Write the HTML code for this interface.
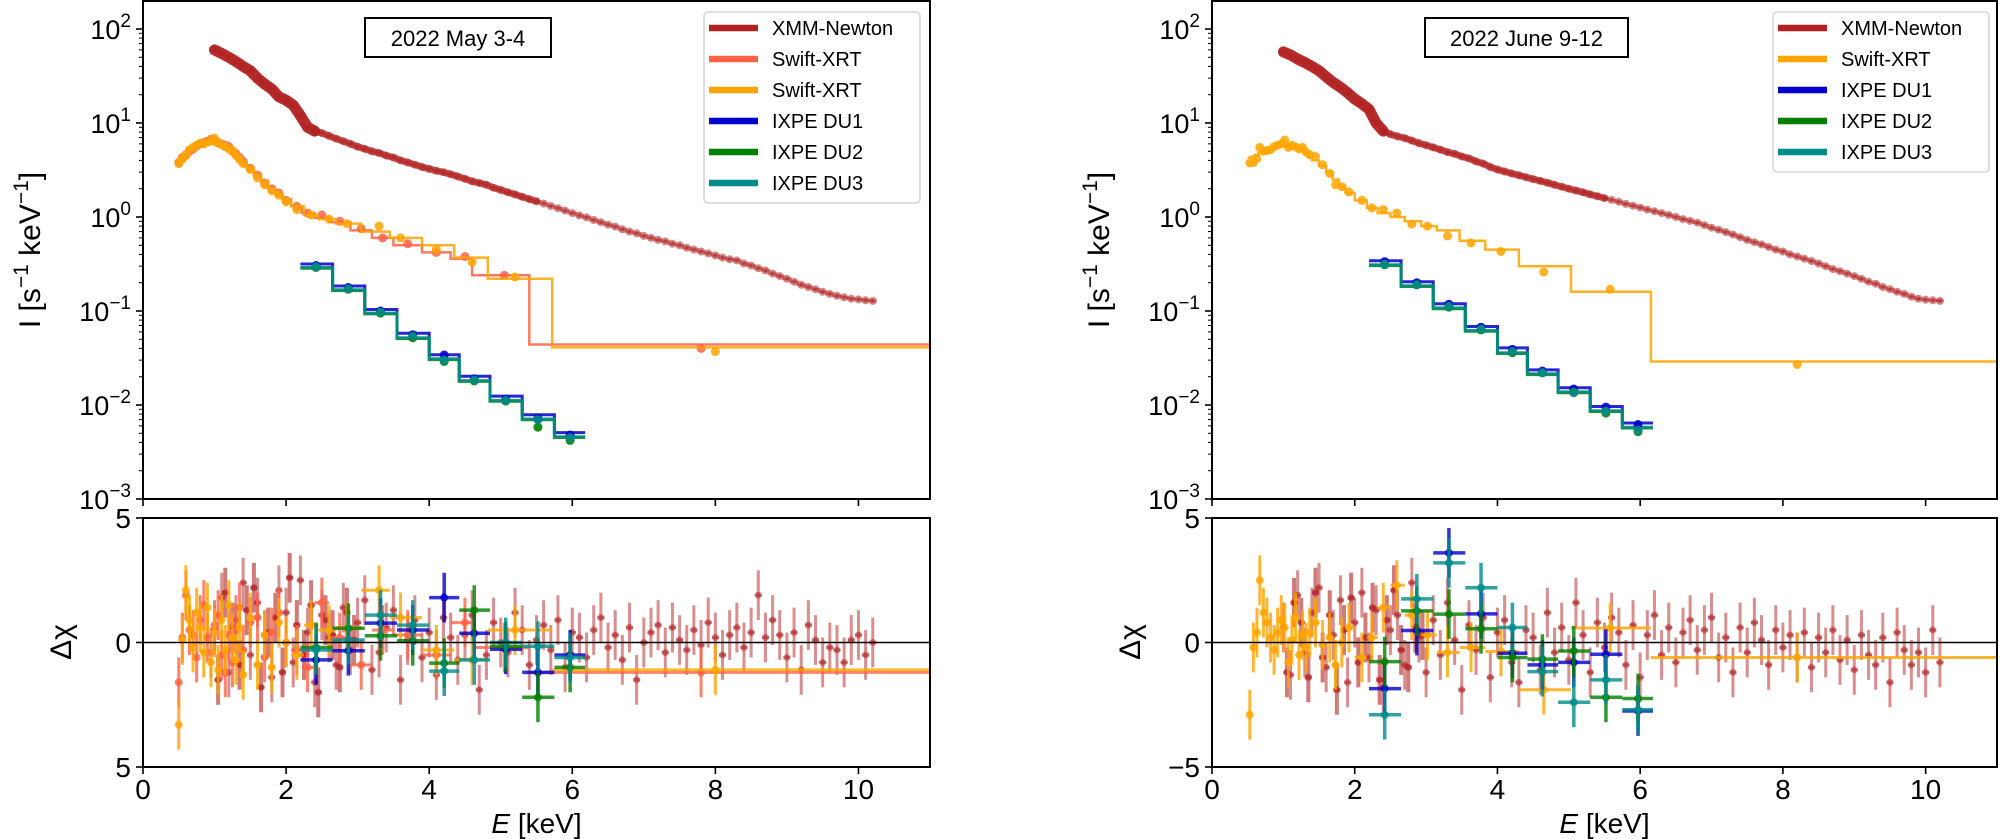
<!DOCTYPE html>
<html><head><meta charset="utf-8">
<style>
html,body{margin:0;padding:0;background:#fff;}
svg{display:block;font-family:"Liberation Sans","DejaVu Sans",sans-serif;}
</style></head>
<body>
<svg id="fig" width="2000" height="839" viewBox="0 0 2000 839" xmlns="http://www.w3.org/2000/svg">
<defs>
<clipPath id="clipTopL"><rect x="143" y="1" width="787" height="498"/></clipPath>
<clipPath id="clipResL"><rect x="143" y="518" width="787" height="249"/></clipPath>
<clipPath id="clipTopR"><rect x="1212" y="1" width="785" height="498"/></clipPath>
<clipPath id="clipResR"><rect x="1212" y="518" width="785" height="249"/></clipPath>
</defs>
</svg>
<script>
// ---------- shared energy grid for XMM ----------
const xmmE = [1.0,1.1,1.2,1.3,1.4,1.5,1.6,1.7,1.8,1.9,2.0,2.1,2.2,2.3,2.4,2.5,2.6,2.7,2.8,2.9,3.0,3.1,3.2,3.3,3.4,3.5,3.6,3.7,3.8,3.9,4.0,4.1,4.2,4.3,4.4,4.5,4.6,4.7,4.8,4.9,5.0,5.1,5.2,5.3,5.4,5.5,5.6,5.7,5.8,5.9,6.0,6.1,6.2,6.3,6.4,6.5,6.6,6.7,6.8,6.9,7.0,7.1,7.2,7.3,7.4,7.5,7.6,7.7,7.8,7.9,8.0,8.1,8.2,8.3,8.4,8.5,8.6,8.7,8.8,8.9,9.0,9.1,9.2,9.3,9.4,9.5,9.6,9.7,9.8,9.9,10.0,10.1,10.2];
const xmmLoE = [1.05,1.15,1.25,1.35,1.45,1.55,1.65,1.75,1.85,1.95,2.05,2.15,2.25,2.35,2.45,2.55,2.65,2.75,2.85,2.95];
const ixpeE = [2.42,2.87,3.32,3.77,4.21,4.63,5.07,5.52,5.97];
const ixpeEdges = [2.2,2.65,3.1,3.55,4.0,4.42,4.85,5.3,5.75,6.18];
const xTicks = [0,2,4,6,8,10];
const yTickExp = [-3,-2,-1,0,1,2];

// ---------- LEFT panel (2022 May 3-4) ----------
const L_xmmY = [60,55,50,45,40,36,30,26,23,19,17.5,15.5,12,9,8.2,7.8,7.3,6.8,6.4,6.0,5.6,5.3,5.0,4.8,4.5,4.3,4.0,3.8,3.6,3.4,3.25,3.1,3.0,2.85,2.7,2.55,2.4,2.3,2.2,2.05,1.94,1.83,1.74,1.64,1.55,1.47,1.39,1.31,1.24,1.17,1.10,1.04,0.99,0.93,0.88,0.83,0.79,0.74,0.70,0.67,0.63,0.60,0.57,0.55,0.52,0.50,0.47,0.45,0.43,0.41,0.39,0.37,0.355,0.345,0.32,0.305,0.285,0.27,0.25,0.235,0.22,0.205,0.19,0.18,0.17,0.16,0.152,0.145,0.14,0.135,0.133,0.13,0.128];
const L_xmmRes = [0.5,1.8,-1.2,0.9,2.4,-0.5,1.6,0.3,-1.4,2.1,1.2,-0.8,2.5,0.4,-1.6,1.1,0.2,-0.9,1.4,-0.3,0.8,1.7,-1.1,-0.4,0.6,1.3,-1.5,0.1,0.9,-0.6,0.4,-1.3,1.0,0.2,-0.7,0.3,1.1,-1.9,-0.5,0.8,0.0,-0.4,1.2,0.5,-0.9,0.1,0.7,-0.3,0.9,-1.0,0.4,0.2,-0.6,0.5,1.0,-0.2,0.3,-0.7,0.6,-1.5,0.0,0.4,0.7,-0.4,0.6,0.1,-0.3,0.5,-0.1,0.8,0.2,-0.5,0.3,0.6,-0.2,0.4,1.9,0.2,0.9,0.3,-0.6,0.4,-1.1,0.7,0.1,-0.8,-0.2,-0.3,-0.8,0.1,0.3,-0.5,0.0];
const L_xmmLoRes = [-1.5,2.0,0.6,-0.9,1.3,2.2,-1.8,0.4,1.0,-1.2,2.6,0.7,-0.5,1.5,-2.0,0.9,0.3,-1.0,1.2,0.1];
// Swift-XRT (tomato)
const L_sw1E = [0.5,0.55,0.6,0.65,0.7,0.75,0.8,0.85,0.9,0.95,1.0,1.05,1.1,1.15,1.2,1.25,1.3,1.35,1.4,1.5,1.6,1.7,1.8,1.9,2.0,2.15,2.3,2.5,2.75,3.05,3.35,3.7,4.1,4.5,5.05,7.8];
const L_sw1Edges = [0.47,0.52,0.57,0.62,0.67,0.72,0.77,0.82,0.87,0.92,0.97,1.02,1.07,1.12,1.17,1.22,1.27,1.32,1.37,1.45,1.55,1.65,1.75,1.85,1.95,2.07,2.22,2.4,2.6,2.9,3.2,3.5,3.9,4.3,4.6,5.4,11];
const L_sw1Y = [3.8,4.3,4.6,5.0,5.3,5.7,6.0,6.2,6.4,6.7,6.5,6.2,6.0,5.8,5.6,5.0,4.7,4.3,3.9,3.3,2.8,2.3,2.0,1.8,1.5,1.3,1.1,1.05,0.9,0.75,0.6,0.52,0.42,0.38,0.24,0.04];
const L_sw1M = [4.0,4.4,4.7,5.0,5.4,5.7,6.0,6.2,6.3,6.3,6.2,6.0,5.8,5.5,5.2,4.9,4.6,4.2,3.8,3.3,2.8,2.4,2.0,1.75,1.55,1.3,1.1,0.98,0.88,0.72,0.6,0.5,0.42,0.36,0.24,0.044];
const L_sw1Res = [-1.6,0.2,1.9,0.5,0.3,-0.6,0.9,1.5,0.2,-0.4,0.7,1.1,-0.5,-1.2,0.3,-0.8,0.5,1.4,-0.3,0.8,1.0,-0.6,0.4,1.2,0.0,-0.3,-1.0,1.6,0.2,-0.9,0.5,0.3,-0.5,0.8,-0.2,-1.2];
// Swift-XRT (orange)
const L_sw2E = [0.5,0.55,0.6,0.65,0.7,0.75,0.8,0.85,0.9,0.95,1.0,1.05,1.1,1.15,1.2,1.25,1.3,1.35,1.4,1.5,1.6,1.7,1.8,1.9,2.0,2.15,2.35,2.6,2.85,3.3,3.6,4.1,4.6,5.2,8.0];
const L_sw2Edges = [0.47,0.52,0.57,0.62,0.67,0.72,0.77,0.82,0.87,0.92,0.97,1.02,1.07,1.12,1.17,1.22,1.27,1.32,1.37,1.45,1.55,1.65,1.75,1.85,1.95,2.07,2.25,2.45,2.7,3.05,3.45,3.9,4.35,4.82,5.72,11];
const L_sw2Y = [3.7,4.1,4.5,5.2,5.5,5.8,6.1,6.0,6.3,6.4,6.9,6.1,5.9,5.6,5.3,5.1,4.5,4.1,3.7,3.2,2.6,2.2,1.9,1.7,1.45,1.2,1.05,0.95,0.85,0.8,0.6,0.45,0.33,0.23,0.037];
const L_sw2M = [4.1,4.5,4.8,5.1,5.5,5.8,6.0,6.2,6.3,6.3,6.2,6.0,5.8,5.5,5.2,4.9,4.6,4.2,3.8,3.3,2.8,2.4,2.0,1.75,1.55,1.3,1.05,0.95,0.85,0.7,0.6,0.5,0.37,0.22,0.041];
const L_sw2Res = [-3.3,0.1,2.1,0.9,-0.2,1.2,0.6,-0.4,1.4,-0.8,0.4,-1.1,0.9,-0.3,1.5,0.2,-0.7,0.6,-1.3,1.0,-0.9,0.3,-1.0,0.8,0.0,-0.5,0.7,0.5,0.6,2.1,1.0,-0.3,-0.7,0.5,-1.1];
// IXPE
const L_du1Y = [0.305,0.178,0.1,0.056,0.034,0.019,0.0115,0.0072,0.0048];
const L_du2Y = [0.29,0.17,0.095,0.052,0.029,0.018,0.011,0.0058,0.0042];
const L_du3Y = [0.295,0.172,0.097,0.054,0.030,0.0185,0.0112,0.007,0.0045];
const L_du1M = [0.305,0.178,0.1,0.056,0.033,0.0195,0.012,0.0076,0.0049];
const L_du23M = [0.29,0.168,0.095,0.052,0.031,0.0182,0.0112,0.0071,0.0046];
const L_du1Res = [-0.7,-0.33,0.78,0.5,1.8,0.37,-0.27,-1.2,-0.5];
const L_du2Res = [-0.2,0.57,0.27,0.07,-0.83,1.3,-0.16,-2.2,-1.0];
const L_du3Res = [-0.3,0.1,1.1,0.7,-1.15,-0.7,0.0,-0.15,-0.6];

// ---------- RIGHT panel (2022 June 9-12) ----------
const R_xmmY = [57,53,48,44,40,36,31,27,24,21,18,16,14,10,8.2,7.6,7.2,6.9,6.5,6.1,5.8,5.5,5.2,4.9,4.7,4.4,4.2,3.9,3.7,3.4,3.2,3.05,2.9,2.78,2.65,2.53,2.42,2.31,2.2,2.1,2.0,1.91,1.83,1.74,1.66,1.59,1.52,1.45,1.38,1.32,1.26,1.2,1.15,1.1,1.05,1.0,0.95,0.91,0.87,0.82,0.77,0.73,0.69,0.65,0.61,0.57,0.54,0.51,0.48,0.45,0.43,0.40,0.38,0.36,0.34,0.32,0.3,0.28,0.265,0.25,0.235,0.22,0.205,0.195,0.18,0.17,0.16,0.152,0.142,0.135,0.132,0.13,0.128];
const R_xmmRes = [0.6,-1.3,1.9,-0.4,1.2,2.2,-1.0,0.3,1.7,-1.6,0.8,2.0,-0.6,1.3,-1.8,0.5,1.1,-0.9,2.4,0.2,-1.2,0.9,-0.5,1.6,0.1,-1.9,0.7,-0.3,1.0,-1.4,0.4,0.9,-0.8,-1.6,0.5,0.2,-1.1,1.2,-0.4,0.6,-0.7,1.6,0.3,-1.2,0.8,-0.2,1.0,0.4,-0.9,0.7,-1.4,0.3,1.1,-0.5,0.6,-0.8,0.4,0.9,-0.3,0.5,1.0,-0.6,0.2,-1.2,0.6,-0.4,0.8,0.1,-0.9,0.5,-0.2,0.3,-0.6,0.4,-1.0,0.2,-0.4,0.5,-0.7,0.1,-1.1,0.3,-0.5,-0.9,0.2,-1.6,0.4,-0.3,-0.9,-0.4,-1.2,0.5,-0.8];
const R_xmmLoRes = [-1.2,1.6,0.8,-1.4,2.0,-0.6,1.1,-1.9,0.5,1.8,-0.8,0.2,1.4,-1.5,0.9,2.1,-0.3,-1.0,0.6,0.3];
const R_swE = [0.53,0.58,0.63,0.67,0.72,0.77,0.82,0.87,0.92,0.97,1.02,1.07,1.12,1.17,1.22,1.27,1.32,1.37,1.45,1.55,1.65,1.73,1.82,1.92,2.1,2.24,2.4,2.59,2.8,3.02,3.3,3.63,4.05,4.65,5.58,8.2];
const R_swEdges = [0.5,0.55,0.6,0.65,0.7,0.75,0.8,0.85,0.9,0.95,1.0,1.05,1.1,1.15,1.2,1.25,1.3,1.35,1.4,1.5,1.6,1.69,1.78,1.87,2.0,2.17,2.32,2.5,2.7,2.93,3.15,3.47,3.83,4.3,5.03,6.15,11];
const R_swY = [3.75,3.8,4.2,5.5,5.0,5.1,5.2,5.6,5.8,6.0,6.6,5.5,5.8,5.6,5.3,5.5,4.9,4.6,4.4,3.6,2.9,2.2,2.1,1.85,1.5,1.25,1.2,1.1,0.84,0.8,0.63,0.53,0.43,0.26,0.17,0.027];
const R_swM = [4.3,4.4,4.6,4.8,5.0,5.2,5.4,5.6,5.7,5.8,5.8,5.7,5.6,5.4,5.2,5.0,4.7,4.4,4.0,3.5,3.0,2.5,2.1,1.8,1.5,1.25,1.1,1.0,0.9,0.8,0.72,0.56,0.45,0.3,0.16,0.029];
const R_swRes = [-2.9,-0.2,0.4,2.5,1.2,0.8,0.2,-0.3,0.4,0.9,0.6,-0.8,0.1,1.0,-0.5,0.3,-0.2,0.4,0.8,-0.1,0.2,-0.9,0.0,0.6,-0.6,0.2,1.4,2.3,1.1,0.3,-0.4,-0.2,-0.36,-1.9,0.58,-0.6];
const R_du1Y = [0.335,0.2,0.118,0.067,0.039,0.023,0.0148,0.0095,0.0062];
const R_du2Y = [0.31,0.19,0.11,0.063,0.036,0.022,0.0138,0.0082,0.0052];
const R_du3Y = [0.315,0.19,0.112,0.064,0.037,0.022,0.0135,0.0086,0.0054];
const R_du1M = [0.33,0.197,0.115,0.066,0.039,0.0228,0.0147,0.0093,0.0062];
const R_du23M = [0.31,0.186,0.108,0.062,0.036,0.0215,0.0138,0.0087,0.0058];
const R_du1Res = [-1.85,0.48,3.6,1.15,-0.43,-0.9,-0.8,-0.47,-2.75];
const R_du2Res = [-0.77,1.27,1.14,0.55,-0.6,-0.67,-0.34,-2.2,-2.25];
const R_du3Res = [-2.9,1.75,3.2,2.2,0.6,-1.17,-2.4,-1.5,-2.7];

const C = {xmm:'#b22222', tom:'#ff6347', ora:'#ffa500', du1:'#0000cd', du2:'#008000', du3:'#008b8b'};
const NS = 'http://www.w3.org/2000/svg';
const svg = document.getElementById('fig');

function mk(tag, parent, name, attrs) {
  const el = document.createElementNS(NS, tag);
  
  
  for (const k in attrs) el.setAttribute(k, attrs[k]);
  parent.appendChild(el);
  return el;
}
function group(parent, name, attrs) { return mk('g', parent, name, attrs || {}); }

function panel(P) {
  const x0 = P.x0, x1 = P.x1, kx = (x1 - x0) / 11;
  const X = e => x0 + e * kx;
  const Y = v => 499 - (Math.log10(v) + 3) * 94;
  const R = r => 642.5 - r * 24.9;
  const root = group(svg, P.id + '-panel');

  // ---------- top spectrum ----------
  const top = group(root, P.id + '-spectrum-data', {'clip-path': 'url(#' + P.clipTop + ')'});
  function stepPath(edges, model, color, w, op, name) {
    let d = '';
    for (let i = 0; i < model.length; i++) {
      const y = Y(model[i]);
      d += (i === 0 ? 'M' : 'L') + X(edges[i]).toFixed(1) + ',' + y.toFixed(1) + 'L' + X(edges[i + 1]).toFixed(1) + ',' + y.toFixed(1);
    }
    mk('path', top, name, {d: d, fill: 'none', stroke: color, 'stroke-width': w, opacity: op});
  }
  function dots(parent, E, V, f, color, r, op, name) {
    for (let i = 0; i < E.length; i++) {
      mk('circle', parent, name, {cx: X(E[i]).toFixed(1), cy: f(V[i]).toFixed(1), r: r, fill: color, opacity: op});
    }
  }
  // XMM
  const xe = [xmmE[0] - 0.05].concat(xmmE.map(e => e + 0.05));
  stepPath(xe, P.xmmY, C.xmm, 2.5, 0.5, 'xmm-model-line');
  const xg = group(top, 'xmm-points');
  // dense low-energy band: connect data points with a thick stroke
  let band = '', band2 = '';
  for (let i = 0; i < xmmE.length; i++) {
    const p = X(xmmE[i]).toFixed(1) + ',' + Y(P.xmmY[i]).toFixed(1);
    if (xmmE[i] <= 2.45) band += (band ? 'L' : 'M') + p;
    if (xmmE[i] >= 2.35 && xmmE[i] <= 5.5) band2 += (band2 ? 'L' : 'M') + p;
  }
  mk('path', xg, 'xmm-dense-band', {d: band, fill: 'none', stroke: C.xmm, 'stroke-width': 11, 'stroke-linecap': 'round', 'stroke-linejoin': 'round', opacity: 0.95});
  mk('path', xg, 'xmm-mid-band', {d: band2, fill: 'none', stroke: C.xmm, 'stroke-width': 7, 'stroke-linecap': 'round', 'stroke-linejoin': 'round', opacity: 0.7});
  for (let i = 0; i < xmmE.length; i++) {
    mk('line', xg, 'xmm-errorbar', {x1: X(xmmE[i]), x2: X(xmmE[i]), y1: Y(P.xmmY[i] * 1.05), y2: Y(P.xmmY[i] / 1.05), stroke: C.xmm, 'stroke-width': 3, opacity: 0.5});
  }
  dots(xg, xmmE, P.xmmY, Y, C.xmm, 4, 0.55, 'xmm-point');
  // Swift
  P.swift.forEach(s => {
    stepPath(s.edges, s.M, s.color, 2.5, 0.85, s.name + '-model-line');
    const g = group(top, s.name + '-points');
    dots(g, s.E, s.Y, Y, s.color, 4.5, 0.85, s.name + '-point');
  });
  // IXPE
  const ix = [[P.du1M, C.du1, 'ixpe-du1', P.du1Y, -1.5], [P.du23M, C.du2, 'ixpe-du2', P.du2Y, 0.8], [P.du23M, C.du3, 'ixpe-du3', P.du3Y, 0]];
  ix.forEach(d => {
    let dd = '';
    for (let i = 0; i < d[0].length; i++) {
      const y = Y(d[0][i]) + d[4];
      dd += (i === 0 ? 'M' : 'L') + X(ixpeEdges[i]).toFixed(1) + ',' + y.toFixed(1) + 'L' + X(ixpeEdges[i + 1]).toFixed(1) + ',' + y.toFixed(1);
    }
    mk('path', top, d[2] + '-model-line', {d: dd, fill: 'none', stroke: d[1], 'stroke-width': 3, opacity: 0.85});
  });
  ix.forEach(d => {
    const g = group(top, d[2] + '-points');
    dots(g, ixpeE, d[3], Y, d[1], 4.5, 0.9, d[2] + '-point');
  });

  // ---------- residuals ----------
  const res = group(root, P.id + '-residual-data', {'clip-path': 'url(#' + P.clipRes + ')'});
  function errPts(parent, E, lo, hi, Rv, color, op, w, rr, name) {
    for (let i = 0; i < E.length; i++) {
      const cx = X(E[i]), cy = R(Rv[i]);
      mk('line', parent, name + '-yerr', {x1: cx, x2: cx, y1: R(Rv[i] + 1), y2: R(Rv[i] - 1), stroke: color, 'stroke-width': w, opacity: op});
      mk('line', parent, name + '-xerr', {x1: X(lo[i]), x2: X(hi[i]), y1: cy, y2: cy, stroke: color, 'stroke-width': w, opacity: op});
      mk('circle', parent, name, {cx: cx, cy: cy, r: rr, fill: color, opacity: op});
    }
  }
  const xr = group(res, 'xmm-residuals');
  errPts(xr, xmmE, xmmE.map(e => e - 0.05), xmmE.map(e => e + 0.05), P.xmmRes, C.xmm, 0.5, 3, 3.5, 'xmm-residual');
  errPts(xr, xmmLoE, xmmLoE.map(e => e - 0.05), xmmLoE.map(e => e + 0.05), P.xmmLoRes, C.xmm, 0.6, 4, 3.5, 'xmm-residual');
  P.swift.forEach(s => {
    const g = group(res, s.name + '-residuals');
    errPts(g, s.E, s.edges.slice(0, -1), s.edges.slice(1), s.Res, s.color, 0.8, 3, 4, s.name + '-residual');
  });
  const lo = ixpeEdges.slice(0, -1), hi = ixpeEdges.slice(1);
  [[P.du1Res, C.du1, 'ixpe-du1'], [P.du2Res, C.du2, 'ixpe-du2'], [P.du3Res, C.du3, 'ixpe-du3']].forEach(d => {
    const g = group(res, d[2] + '-residuals');
    errPts(g, ixpeE, lo, hi, d[0], d[1], 0.8, 3.5, 4, d[2] + '-residual');
  });
  mk('line', root, P.id + '-zero-line', {x1: x0, x2: x1, y1: 642.5, y2: 642.5, stroke: '#000', 'stroke-width': 1.6});

  // ---------- axes ----------
  const ax = group(root, P.id + '-axes');
  mk('rect', ax, P.id + '-spectrum-frame', {x: x0, y: 1, width: x1 - x0, height: 498, fill: 'none', stroke: '#000', 'stroke-width': 2});
  mk('rect', ax, P.id + '-residual-frame', {x: x0, y: 518, width: x1 - x0, height: 249, fill: 'none', stroke: '#000', 'stroke-width': 2});
  xTicks.forEach(t => {
    mk('line', ax, 'x-tick-top-panel', {x1: X(t), x2: X(t), y1: 499, y2: 506, stroke: '#000', 'stroke-width': 1.6});
    mk('line', ax, 'x-tick', {x1: X(t), x2: X(t), y1: 767, y2: 774, stroke: '#000', 'stroke-width': 1.6});
    const tx = mk('text', ax, 'x-tick-label', {x: X(t), y: 799, 'font-size': 28, 'text-anchor': 'middle', fill: '#000'});
    tx.textContent = String(t);
  });
  const xt = mk('text', ax, 'x-axis-title', {x: (x0 + x1) / 2, y: 833, 'font-size': 28, 'text-anchor': 'middle', fill: '#000'});
  xt.innerHTML = '<tspan font-style="italic">E</tspan> [keV]';
  yTickExp.forEach(p => {
    const y = Y(Math.pow(10, p));
    mk('line', ax, 'y-tick', {x1: x0 - 7, x2: x0, y1: y, y2: y, stroke: '#000', 'stroke-width': 1.6});
    const t = mk('text', ax, 'y-tick-label', {x: x0 - 12, y: y + 10, 'font-size': 27, 'text-anchor': 'end', fill: '#000'});
    t.innerHTML = '10<tspan dy="-12" font-size="19">' + (p < 0 ? '\u2212' + (-p) : p) + '</tspan>';
    for (let k = 2; k <= 9; k++) {
      const yy = Y(k * Math.pow(10, p));
      if (yy < 2) continue;
      mk('line', ax, 'y-minor-tick', {x1: x0 - 4, x2: x0, y1: yy, y2: yy, stroke: '#000', 'stroke-width': 1});
    }
  });
  const yt = mk('text', ax, 'y-axis-title', {x: 0, y: 0, 'font-size': 30, 'text-anchor': 'middle', fill: '#000', transform: 'translate(' + (x0 - 103) + ',250) rotate(-90)'});
  yt.innerHTML = 'I [s<tspan dy="-12" font-size="21">\u22121</tspan><tspan dy="12"> keV</tspan><tspan dy="-12" font-size="21">\u22121</tspan><tspan dy="12">]</tspan>';
  [[5, '5'], [0, '0'], [-5, P.minus5]].forEach(d => {
    const y = R(d[0]);
    mk('line', ax, 'residual-y-tick', {x1: x0 - 7, x2: x0, y1: y, y2: y, stroke: '#000', 'stroke-width': 1.6});
    const t = mk('text', ax, 'residual-y-tick-label', {x: x0 - 12, y: y + 10, 'font-size': 28, 'text-anchor': 'end', fill: '#000'});
    t.textContent = d[1];
  });
  const rt = mk('text', ax, 'residual-axis-title', {x: 0, y: 0, 'font-size': 30, 'text-anchor': 'middle', fill: '#000', transform: 'translate(' + (x0 - 72) + ',642) rotate(-90)'});
  rt.textContent = '\u0394\u03c7';

  // ---------- title box ----------
  const tb = group(root, P.id + '-date-label');
  mk('rect', tb, 'date-label-box', {x: P.tb[0], y: 18, width: P.tb[1] - P.tb[0], height: 39, fill: '#fff', stroke: '#000', 'stroke-width': 2});
  const tt = mk('text', tb, 'date-label-text', {x: (P.tb[0] + P.tb[1]) / 2, y: 46, 'font-size': 22, 'text-anchor': 'middle', fill: '#000'});
  tt.textContent = P.title;

  // ---------- legend ----------
  const lg = group(root, P.id + '-legend');
  const n = P.legend.length;
  mk('rect', lg, 'legend-frame', {x: P.lg, y: 12, width: 216, height: 31 * n + 5, rx: 4, fill: '#fff', stroke: '#d0d0d0', 'stroke-width': 1.5, opacity: 0.9});
  P.legend.forEach((l, i) => {
    const cy = 28 + i * 31;
    const ent = group(lg, 'legend-entry');
    mk('line', ent, 'legend-handle', {x1: P.lg + 5, x2: P.lg + 54, y1: cy, y2: cy, stroke: l[1], 'stroke-width': 6.5});
    const t = mk('text', ent, 'legend-label', {x: P.lg + 68, y: cy + 7, 'font-size': 20, fill: '#000'});
    t.textContent = l[0];
  });
}

panel({id: 'may', x0: 143, x1: 930, clipTop: 'clipTopL', clipRes: 'clipResL', minus5: '5',
  title: '2022 May 3-4', tb: [365, 551], lg: 704,
  xmmY: L_xmmY, xmmRes: L_xmmRes, xmmLoRes: L_xmmLoRes,
  swift: [
    {name: 'swift-xrt-1', color: C.tom, E: L_sw1E, edges: L_sw1Edges, Y: L_sw1Y, M: L_sw1M, Res: L_sw1Res},
    {name: 'swift-xrt-2', color: C.ora, E: L_sw2E, edges: L_sw2Edges, Y: L_sw2Y, M: L_sw2M, Res: L_sw2Res}],
  du1Y: L_du1Y, du2Y: L_du2Y, du3Y: L_du3Y, du1M: L_du1M, du23M: L_du23M,
  du1Res: L_du1Res, du2Res: L_du2Res, du3Res: L_du3Res,
  legend: [['XMM-Newton', C.xmm], ['Swift-XRT', C.tom], ['Swift-XRT', C.ora], ['IXPE DU1', C.du1], ['IXPE DU2', C.du2], ['IXPE DU3', C.du3]]});

panel({id: 'june', x0: 1212, x1: 1997, clipTop: 'clipTopR', clipRes: 'clipResR', minus5: '\u22125',
  title: '2022 June 9-12', tb: [1425, 1628], lg: 1773,
  xmmY: R_xmmY, xmmRes: R_xmmRes, xmmLoRes: R_xmmLoRes,
  swift: [{name: 'swift-xrt', color: C.ora, E: R_swE, edges: R_swEdges, Y: R_swY, M: R_swM, Res: R_swRes}],
  du1Y: R_du1Y, du2Y: R_du2Y, du3Y: R_du3Y, du1M: R_du1M, du23M: R_du23M,
  du1Res: R_du1Res, du2Res: R_du2Res, du3Res: R_du3Res,
  legend: [['XMM-Newton', C.xmm], ['Swift-XRT', C.ora], ['IXPE DU1', C.du1], ['IXPE DU2', C.du2], ['IXPE DU3', C.du3]]});
</script>
</body></html>
